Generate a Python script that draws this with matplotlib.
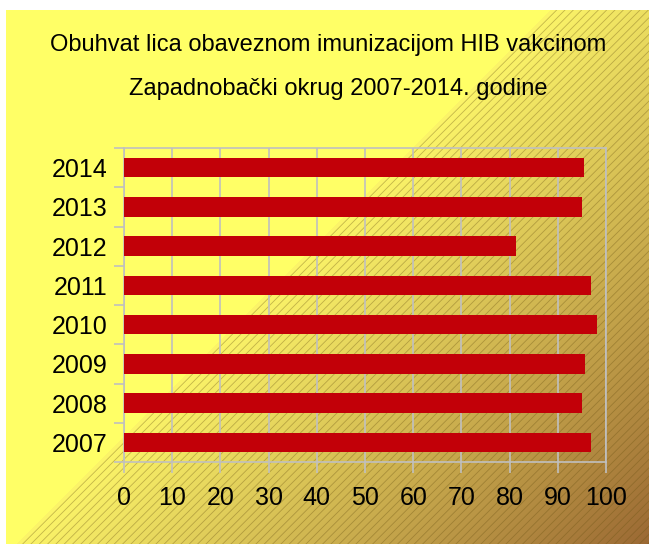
import numpy as np
import matplotlib
matplotlib.use("Agg")
import matplotlib.pyplot as plt
from matplotlib.patches import Polygon

# data
years = ["2007", "2008", "2009", "2010", "2011", "2012", "2013", "2014"]
coverage = [96.8, 95.0, 95.6, 98.1, 96.9, 81.3, 95.0, 95.4]
x_ticks = list(range(0, 101, 10))
title1 = "Obuhvat lica obaveznom imunizacijom HIB vakcinom"
title2 = "Zapadnobački okrug 2007-2014. godine"

plt.rcParams['font.family'] = ['Liberation Sans', 'DejaVu Sans']
plt.rcParams['hatch.linewidth'] = 0.6

W, H = 649, 544
fig = plt.figure(figsize=(W / 100, H / 100), dpi=100)
fig.patch.set_facecolor("white")

# background: yellow with a diagonal gradient to brown + hatching
bg = fig.add_axes([0, 0, 1, 1])
bg.set_xlim(0, W)
bg.set_ylim(H, 0)
bg.axis("off")
x0, y0 = 6, 10
xx, yy = np.meshgrid(np.arange(x0, W) + 0.5, np.arange(y0, H) + 0.5)
edge = 560
t = np.clip((xx + yy - edge) / (W + H - edge), 0, 1)[..., None]
c_start = np.array([255, 255, 102]) / 255
c_edge = np.array([252, 245, 105]) / 255
c_end = np.array([155, 105, 52]) / 255
img = np.where(t > 0, c_edge + (c_end - c_edge) * t, c_start)
bg.imshow(img, extent=(x0, W, H, y0), aspect="auto", interpolation="bilinear")
hatch = Polygon([(edge - y0, y0), (W, y0), (W, H), (edge - H, H)], closed=True,
                facecolor="none", edgecolor=(0.42, 0.33, 0.08, 0.38), lw=0, hatch="////")
bg.add_patch(hatch)

# title
fig.text(328 / W, 1 - 45 / H, title1, ha="center", va="center", fontsize=17)
fig.text(338 / W, 1 - 89 / H, title2, ha="center", va="center", fontsize=17)

# chart
ax = fig.add_axes([124 / W, 1 - 462 / H, (606 - 124) / W, (462 - 148) / H])
ax.set_facecolor("none")
pos = np.arange(len(years))
ax.barh(pos, coverage, height=0.5, color="#C20008", zorder=3)

ax.set_xlim(0, 100)
ax.set_ylim(-0.5, len(years) - 0.5)
ax.set_xticks(x_ticks)
ax.set_xticklabels([str(v) for v in x_ticks], fontsize=18)
ax.set_yticks(np.arange(-0.5, len(years)), labels=[])
ax.set_yticks(pos, labels=years, minor=True)
ax.tick_params(axis="y", which="minor", length=0, pad=12, labelsize=18)
ax.tick_params(axis="y", which="major", length=7.2, width=1.2, color="#C0C0C0")
ax.tick_params(axis="x", length=8, width=1.2, color="#C0C0C0", pad=9)
ax.grid(axis="x", color="#C0C0C0", lw=1.2, zorder=1)
for s in ax.spines.values():
    s.set_color("#C0C0C0")
    s.set_linewidth(1.2)

fig.savefig("out.png", dpi=100)
